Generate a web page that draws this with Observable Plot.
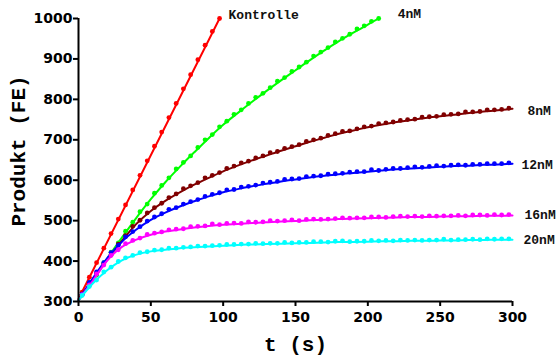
<!DOCTYPE html>
<html>
<head>
<meta charset="utf-8">
<script src="https://cdn.jsdelivr.net/npm/d3@7"></script>
<script src="https://cdn.jsdelivr.net/npm/@observablehq/plot@0.6"></script>
<style>
  body { margin: 0; background: #fff; }
  #chart svg { display: block; }
</style>
</head>
<body>
<div id="chart"></div>
<script>
// Enzyme progress curves: product formed over time for the control and
// five inhibitor concentrations (measured points + fitted curves).

const seriesNames = ["Kontrolle", "4nM", "8nM", "12nM", "16nM", "20nM"];
const seriesColors = ["#ff0000", "#00ff00", "#800000", "#0000ff", "#ff00ff", "#00ffff"];

// Measurement times (s)
const tPoints = [2.5, 7.5, 12.5, 17.5, 22.5, 27.5, 32.5, 37.5, 42.5, 47.5,
  52.5, 57.5, 62.5, 67.5, 72.5, 77.5, 82.5, 87.5, 92.5, 97.5,
  102.5, 107.5, 112.5, 117.5, 122.5, 127.5, 132.5, 137.5, 142.5, 147.5,
  152.5, 157.5, 162.5, 167.5, 172.5, 177.5, 182.5, 187.5, 192.5, 197.5,
  202.5, 207.5, 212.5, 217.5, 222.5, 227.5, 232.5, 237.5, 242.5, 247.5,
  252.5, 257.5, 262.5, 267.5, 272.5, 277.5, 282.5, 287.5, 292.5, 297.5];

// Measured product (FE)
const pointsKontrolle = [323, 360, 396, 432, 468, 504, 539, 576, 612, 648,
  684, 719, 755, 790, 826, 861, 898, 934, 968, 1000];
const points4nM = [316, 342, 365, 396, 422, 445, 474, 496, 522, 541,
  568, 587, 606, 628, 644, 660, 681, 700, 713, 732,
  746, 763, 774, 790, 805, 815, 829, 845, 854, 869,
  880, 892, 907, 917, 928, 942, 951, 961, 974, 982,
  993, 1000];
const points8nM = [318, 342, 370, 393, 415, 442, 463, 486, 501, 519,
  532, 543, 557, 566, 579, 586, 594, 606, 612, 619,
  629, 635, 643, 647, 655, 660, 668, 671, 679, 683,
  688, 696, 700, 704, 711, 715, 721, 722, 727, 732,
  734, 740, 742, 744, 748, 750, 751, 756, 757, 758,
  762, 763, 764, 769, 769, 770, 774, 774, 775, 778];
const points12nM = [318, 347, 373, 396, 421, 439, 460, 473, 485, 499,
  509, 517, 528, 532, 541, 547, 552, 560, 565, 569,
  576, 577, 583, 585, 588, 593, 595, 597, 602, 603,
  604, 609, 610, 611, 615, 616, 617, 620, 621, 621,
  626, 624, 627, 629, 629, 631, 633, 632, 634, 636,
  635, 637, 638, 637, 639, 639, 641, 641, 641, 643];
const points16nM = [317, 341, 368, 390, 414, 428, 443, 451, 457, 466,
  469, 472, 477, 479, 480, 485, 486, 487, 492, 490,
  493, 494, 493, 497, 496, 497, 500, 499, 500, 502,
  500, 503, 504, 503, 504, 505, 507, 506, 507, 507,
  509, 509, 508, 510, 511, 510, 511, 510, 512, 511,
  512, 512, 513, 512, 514, 514, 513, 515, 514, 515];
const points20nM = [315, 337, 353, 373, 385, 399, 408, 414, 421, 423,
  427, 428, 432, 432, 434, 435, 437, 437, 438, 439,
  441, 441, 442, 442, 444, 443, 444, 444, 446, 445,
  446, 446, 448, 448, 447, 449, 450, 448, 449, 449,
  451, 450, 451, 450, 452, 451, 452, 451, 452, 452,
  454, 452, 453, 453, 454, 453, 455, 454, 455, 455];

// Fitted curves
const tFit = [0, 10, 20, 30, 40, 50, 60, 70, 80, 90, 100, 110, 120, 130, 140, 150,
  160, 170, 180, 190, 200, 210, 220, 230, 240, 250, 260, 270, 280, 290, 300];
const tFitKontrolle = [0, 97.5];
const fitKontrolle = [306, 1000];
const tFit4nM = [0, 10, 20, 30, 40, 50, 60, 70, 80, 90, 100, 110, 120, 130, 140, 150,
  160, 170, 180, 190, 200, 207.5];
const fit4nM = [303, 352, 407, 458, 507, 553, 595, 633, 669, 704, 737, 766, 794, 821, 847, 872,
  897, 921, 944, 965, 985, 1000];
const fit8nM = [303, 355, 404, 450, 492, 524, 549, 570, 589, 606, 622, 636, 649, 661, 673, 684,
  695, 705, 715, 723, 731, 738, 744, 749, 754, 758, 762, 766, 770, 773, 777];
const fit12nM = [303, 358, 408, 448, 478, 502, 520, 535, 548, 560, 570, 578, 585, 591, 597, 602,
  607, 611, 615, 618, 621, 624, 627, 629, 631, 633, 635, 636, 638, 639, 641];
const fit16nM = [303, 352, 402, 435, 453, 465, 473, 478, 483, 487, 490, 492, 494, 496, 498, 499,
  501, 502, 504, 505, 506, 507, 508, 509, 509, 510, 511, 511, 512, 512, 513];
const fit20nM = [303, 345, 378, 402, 416, 424, 428, 432, 434, 436, 438, 440, 441, 442, 443, 444,
  445, 446, 447, 447, 448, 449, 449, 450, 450, 451, 451, 452, 452, 453, 453];

// Axis ticks
const xTicks = [0, 50, 100, 150, 200, 250, 300];
const yTicks = [300, 400, 500, 600, 700, 800, 900, 1000];

const pointSets = [pointsKontrolle, points4nM, points8nM, points12nM, points16nM, points20nM];
const fitTimes = [tFitKontrolle, tFit4nM, tFit, tFit, tFit, tFit];
const fitSets = [fitKontrolle, fit4nM, fit8nM, fit12nM, fit16nM, fit20nM];
// end-label offsets (px) next to the last point of each curve
const labelOffsets = [[9, -4], [19, -5], [15, 2], [9, 1], [12, -1], [11, 0]];

const labelFont = "'Liberation Mono', 'Courier New', monospace";
const tickFont = "'DejaVu Sans', Verdana, sans-serif";

const marks = [];
seriesNames.forEach((name, k) => {
  const color = seriesColors[k];
  const fitRows = fitSets[k].map((v, i) => ({t: fitTimes[k][i], v}));
  const ptRows = pointSets[k].map((v, i) => ({t: tPoints[i], v}));
  marks.push(Plot.line(fitRows, {x: "t", y: "v", stroke: color, strokeWidth: 2, curve: "monotone-x"}));
  marks.push(Plot.dot(ptRows, {x: "t", y: "v", fill: color, r: 2.4}));
  const last = fitRows[fitRows.length - 1];
  marks.push(Plot.text([last], {
    x: "t", y: "v", text: () => name,
    dx: labelOffsets[k][0], dy: labelOffsets[k][1],
    textAnchor: "start", fontFamily: labelFont, fontWeight: "bold", fontSize: 13, fill: "#111"
  }));
});

const chart = Plot.plot({
  width: 556,
  height: 359,
  marginLeft: 78,
  marginRight: 44,
  marginTop: 18,
  marginBottom: 58,
  style: {fontFamily: tickFont, background: "#fff", color: "#000"},
  x: {domain: [0, 300]},
  y: {domain: [300, 1000]},
  marks: [
    ...marks,
    Plot.ruleX([0], {strokeWidth: 2, y1: 300, y2: 1000}),
    Plot.ruleY([300], {strokeWidth: 2, x1: 0, x2: 300}),
    Plot.axisX({ticks: xTicks, tickFormat: d => String(d), tickSize: 5, tickPadding: 6,
      strokeWidth: 2, label: null, fontSize: 14, fontWeight: "bold", fontFamily: tickFont}),
    Plot.axisY({ticks: yTicks, tickFormat: d => String(d), tickSize: 5, tickPadding: 1,
      strokeWidth: 2, label: null, fontSize: 14, fontWeight: "bold", fontFamily: tickFont}),
    Plot.text(["t (s)"], {frameAnchor: "bottom", dy: 43, text: d => d,
      textAnchor: "middle", lineAnchor: "middle",
      fontFamily: labelFont, fontWeight: "bold", fontSize: 21, fill: "#000"}),
    Plot.text(["Produkt (FE)"], {frameAnchor: "left", dx: -60, dy: -9, rotate: -90, text: d => d,
      textAnchor: "middle", lineAnchor: "middle",
      fontFamily: labelFont, fontWeight: "bold", fontSize: 21, fill: "#000"})
  ]
});

document.getElementById("chart").appendChild(chart);
</script>
</body>
</html>
